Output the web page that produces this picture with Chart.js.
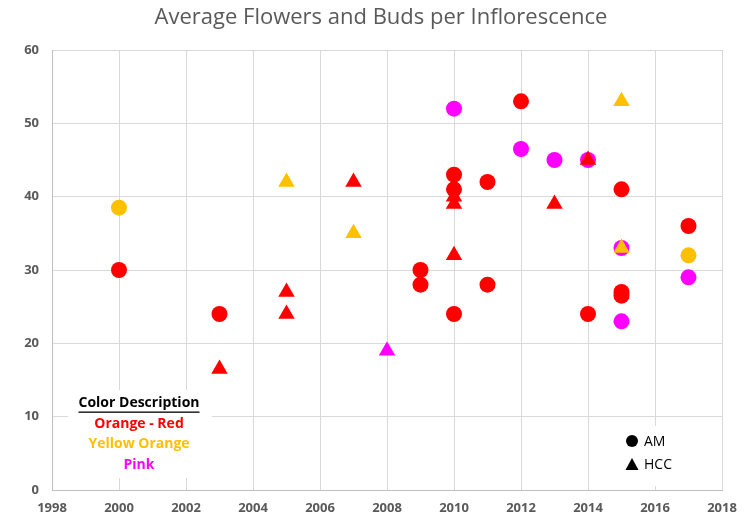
<!DOCTYPE html>
<html>
<head>
<meta charset="utf-8">
<script src="https://cdn.jsdelivr.net/npm/chart.js@4"></script>
<style>
  html, body { margin: 0; padding: 0; background: #fff; }
  #wrap { width: 749px; height: 521px; }
</style>
</head>
<body>
<div id="wrap"><canvas id="chart" width="749" height="521"></canvas></div>
<script>
// Data: year / flowers+buds per inflorescence
const redAmYears = [2000, 2003, 2009, 2009, 2010, 2010, 2010, 2011, 2011, 2012, 2014, 2015, 2015, 2015, 2017];
const redAmValues = [30, 24, 30, 28, 43, 41, 24, 42, 28, 53, 24, 41, 27, 26.5, 36];

const redHccYears = [2003, 2005, 2005, 2007, 2010, 2010, 2010, 2013, 2014];
const redHccValues = [16.5, 27, 24, 42, 40, 39, 32, 39, 45];

const yellowAmYears = [2000, 2017];
const yellowAmValues = [38.5, 32];

const yellowHccYears = [2005, 2007, 2015, 2015];
const yellowHccValues = [42, 35, 53, 33];

const pinkAmYears = [2010, 2012, 2013, 2014, 2015, 2015, 2017];
const pinkAmValues = [52, 46.5, 45, 45, 33, 23, 29];

const pinkHccYears = [2008];
const pinkHccValues = [19];

const colorNames = ['Orange - Red', 'Yellow Orange', 'Pink'];
const colorValues = ['#ff0000', '#ffc000', '#ff00ff'];
const typeNames = ['AM', 'HCC'];
const chartTitle = 'Average Flowers and Buds per Inflorescence';

const xMin = 1998, xMax = 2018, xStep = 2;
const yMin = 0, yMax = 60, yStep = 10;

const gray = '#595959';
const fontFam = '"Open Sans", "Noto Sans", sans-serif';

function points(years, values) {
    return years.map((y, i) => ({ x: y, y: values[i] }));
}

function series(label, years, values, color, style) {
    return {
        label: label,
        data: points(years, values),
        backgroundColor: color,
        borderColor: color,
        borderWidth: 0,
        pointStyle: style,
        pointRadius: style === 'triangle' ? 9.5 : 8,
        pointHoverRadius: style === 'triangle' ? 9.5 : 8
    };
}

// first dataset is drawn on top, so the triangles go first
const datasets = [
    series('Orange - Red HCC', redHccYears, redHccValues, colorValues[0], 'triangle'),
    series('Yellow Orange HCC', yellowHccYears, yellowHccValues, colorValues[1], 'triangle'),
    series('Pink HCC', pinkHccYears, pinkHccValues, colorValues[2], 'triangle'),
    series('Orange - Red AM', redAmYears, redAmValues, colorValues[0], 'circle'),
    series('Yellow Orange AM', yellowAmYears, yellowAmValues, colorValues[1], 'circle'),
    series('Pink AM', pinkAmYears, pinkAmValues, colorValues[2], 'circle')
];

// Title (centred a bit right of the canvas middle, like the original)
const plotTitle = {
    id: 'plotTitle',
    afterDraw(chart) {
        const ctx = chart.ctx;
        ctx.save();
        ctx.font = '22px ' + fontFam;
        ctx.fillStyle = gray;
        ctx.textAlign = 'center';
        ctx.textBaseline = 'middle';
        ctx.fillText(chartTitle, 381, 18);
        ctx.restore();
    }
};

// Text boxes inside the plot (colour key + marker key)
const keyBoxes = {
    id: 'keyBoxes',
    beforeDatasetsDraw(chart) {
        const ctx = chart.ctx;
        ctx.save();

        // colour description box
        ctx.fillStyle = '#fff';
        ctx.fillRect(68, 390, 144, 88);
        ctx.textAlign = 'center';
        ctx.textBaseline = 'middle';
        ctx.font = 'bold 14px ' + fontFam;
        ctx.fillStyle = '#000';
        const head = 'Color Description';
        ctx.fillText(head, 139, 403);
        const w = ctx.measureText(head).width;
        ctx.fillRect(139 - w / 2, 411.5, w, 1.3);
        colorNames.forEach((name, i) => {
            ctx.fillStyle = colorValues[i];
            ctx.fillText(name, 139, 424 + i * 20.5);
        });

        // marker key box
        ctx.fillStyle = '#fff';
        ctx.fillRect(612, 426, 88, 60);
        ctx.fillStyle = '#000';
        ctx.beginPath();
        ctx.arc(632, 441, 6, 0, Math.PI * 2);
        ctx.fill();
        ctx.beginPath();
        ctx.moveTo(632, 458);
        ctx.lineTo(638.5, 470);
        ctx.lineTo(625.5, 470);
        ctx.closePath();
        ctx.fill();
        ctx.textAlign = 'left';
        ctx.font = '14px ' + fontFam;
        ctx.fillText(typeNames[0], 644, 442);
        ctx.fillText(typeNames[1], 644, 465);

        ctx.restore();
    }
};

function createScatterChart() {
    const ctx = document.getElementById('chart').getContext('2d');
    new Chart(ctx, {
        type: 'scatter',
        data: { datasets: datasets },
        plugins: [keyBoxes, plotTitle],
        options: {
            responsive: false,
            animation: false,
            events: [],
            layout: { padding: { left: 0, right: 27, top: 50, bottom: 0 } },
            plugins: {
                legend: { display: false },
                tooltip: { enabled: false },
                title: { display: false }
            },
            scales: {
                x: {
                    type: 'linear',
                    min: xMin,
                    max: xMax,
                    grid: { color: '#d9d9d9', drawTicks: false },
                    border: { color: '#bfbfbf' },
                    ticks: {
                        stepSize: xStep,
                        padding: 10,
                        color: gray,
                        font: { family: fontFam, size: 13, weight: 'bold' },
                        callback: v => String(v),
                        maxRotation: 0
                    },
                    afterFit: s => { s.height = 31; }
                },
                y: {
                    min: yMin,
                    max: yMax,
                    grid: { color: '#d9d9d9', drawTicks: false },
                    border: { color: '#bfbfbf' },
                    ticks: {
                        stepSize: yStep,
                        padding: 13,
                        color: gray,
                        font: { family: fontFam, size: 13, weight: 'bold' }
                    },
                    afterFit: s => { s.width = 52; }
                }
            }
        }
    });
}

document.addEventListener('DOMContentLoaded', () => {
    createScatterChart();
});
</script>
</body>
</html>
